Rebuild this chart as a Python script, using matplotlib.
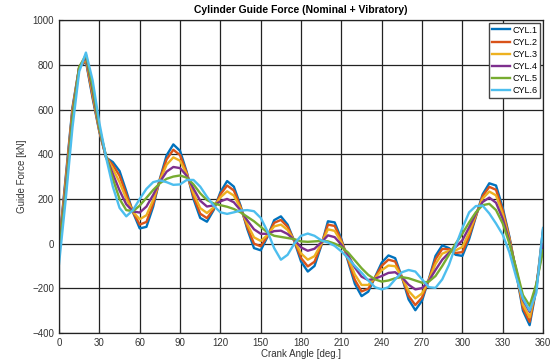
import numpy as np
import matplotlib.pyplot as plt

plt.rcParams['font.family'] = ['Liberation Sans', 'DejaVu Sans']

# crank angle every 5 deg
angle = list(range(0, 361, 5))

cyl1 = [-10, 300, 610, 790, 815, 650, 500, 385, 365, 325, 235, 140, 68, 75, 165, 290, 395, 444, 415,
        320, 200, 115, 98, 150, 230, 280, 255, 170, 65, -20, -30, 30, 105, 122, 85, 10, -80, -125,
        -100, -10, 100, 95, 20, -80, -180, -235, -215, -150, -85, -53, -65, -150, -250, -298, -255,
        -160, -55, -8, -20, -50, -55, 20, 120, 220, 270, 260, 160, 30, -130, -300, -365, -200, 65]
cyl2 = [-15, 288, 601, 790, 820, 659, 503, 386, 352, 304, 221, 141, 85, 97, 178, 287, 377, 420, 396,
        316, 211, 134, 114, 155, 220, 260, 238, 165, 74, 0, -12, 33, 93, 106, 75, 12, -65, -102,
        -81, -6, 85, 79, 14, -73, -162, -214, -202, -152, -99, -72, -80, -150, -234, -275, -241,
        -162, -70, -24, -25, -42, -38, 33, 123, 212, 254, 241, 148, 25, -127, -288, -350, -197, 49]
cyl3 = [-22, 272, 590, 790, 827, 670, 508, 387, 335, 275, 201, 142, 109, 127, 195, 282, 353, 386, 371,
        310, 226, 159, 137, 162, 207, 234, 215, 158, 87, 28, 12, 38, 77, 85, 61, 14, -44, -72,
        -56, -1, 64, 57, 6, -64, -138, -185, -185, -154, -119, -98, -101, -150, -212, -245, -223,
        -164, -91, -45, -32, -30, -15, 50, 128, 201, 233, 216, 132, 18, -122, -272, -330, -192, 27]
cyl4 = [-31, 251, 575, 790, 836, 685, 514, 388, 312, 238, 176, 144, 139, 166, 218, 276, 322, 343, 338,
        303, 246, 192, 166, 171, 189, 200, 185, 149, 104, 64, 44, 44, 56, 58, 43, 17, -17, -32,
        -23, 5, 37, 29, -5, -52, -107, -148, -163, -157, -145, -131, -128, -150, -184, -205, -199,
        -167, -118, -72, -41, -15, 15, 73, 134, 186, 206, 183, 111, 9, -116, -251, -305, -186, -2]
cyl5 = [-40, 230, 560, 790, 845, 700, 520, 390, 290, 200, 150, 145, 170, 205, 240, 270, 290, 300, 305,
        295, 265, 225, 195, 180, 172, 165, 155, 140, 120, 100, 75, 50, 35, 30, 25, 20, 10, 8,
        10, 12, 10, 0, -15, -40, -75, -110, -140, -160, -170, -165, -155, -150, -155, -165, -175,
        -170, -145, -100, -50, 0, 45, 95, 140, 172, 178, 150, 90, 0, -110, -230, -278, -180, -30]
cyl6 = [-90, 200, 520, 770, 855, 730, 540, 385, 255, 160, 122, 150, 200, 245, 275, 283, 275, 263, 265,
        285, 285, 255, 210, 170, 140, 133, 140, 148, 150, 145, 115, 55, -20, -72, -50, 0, 35, 45,
        35, 15, 5, -10, -35, -65, -100, -130, -165, -195, -205, -195, -160, -128, -118, -125, -160,
        -195, -198, -160, -95, -10, 70, 140, 168, 170, 135, 90, 40, -40, -150, -245, -300, -220, 70]

labels = ['CYL.1', 'CYL.2', 'CYL.3', 'CYL.4', 'CYL.5', 'CYL.6']
colors = ['#0072BD', '#D95319', '#EDB120', '#7E2F8E', '#77AC30', '#4DBEEE']

fig = plt.figure(figsize=(5.57, 3.6), dpi=100)
ax = fig.add_axes([0.106, 0.075, 0.869, 0.869])

for y, lab, c in zip([cyl1, cyl2, cyl3, cyl4, cyl5, cyl6], labels, colors):
    ax.plot(angle, y, color=c, lw=1.7, label=lab)

ax.set_xlim(0, 360)
ax.set_ylim(-400, 1000)
ax.set_xticks(np.arange(0, 361, 30))
ax.set_yticks(np.arange(-400, 1001, 200))
ax.grid(True, color='#222222', lw=0.9)
ax.set_axisbelow(True)
ax.tick_params(direction='in', labelsize=7, colors='#333333', length=3)
for s in ax.spines.values():
    s.set_color('#222222')
    s.set_linewidth(0.9)

ax.set_title('Cylinder Guide Force (Nominal + Vibratory)', fontsize=7.5, fontweight='bold', pad=5)
ax.set_xlabel('Crank Angle [deg.]', fontsize=7, color='#333333', labelpad=1)
ax.set_ylabel('Guide Force [kN]', fontsize=7, color='#333333', labelpad=4)

leg = ax.legend(loc='upper right', fontsize=6.5, handlelength=2.0, handletextpad=0.3,
                borderpad=0.3, labelspacing=0.35, fancybox=False, framealpha=1,
                borderaxespad=0.3)
leg.get_frame().set_edgecolor('#444444')
leg.get_frame().set_linewidth(1.0)

fig.savefig('out.png', dpi=100)
